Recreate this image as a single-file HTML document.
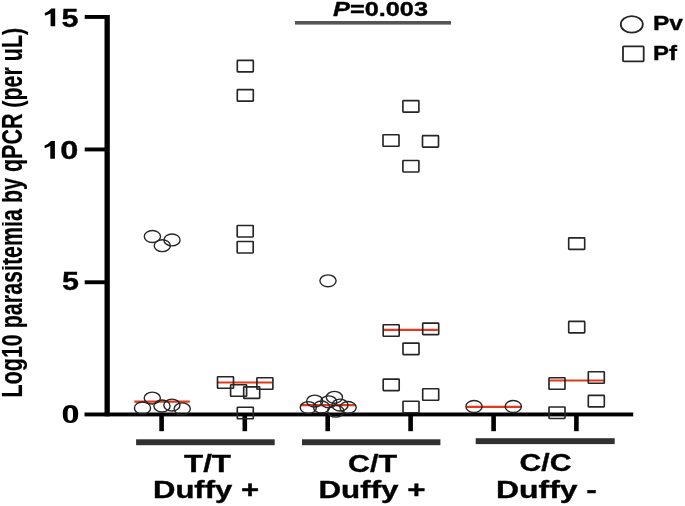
<!DOCTYPE html>
<html><head><meta charset="utf-8"><style>
html,body{margin:0;padding:0;background:#fff;}
svg{display:block;will-change:transform;}
text{font-family:"Liberation Sans",sans-serif;font-weight:bold;fill:#000;stroke:#000;stroke-width:0.35px;}
</style></head><body>
<svg width="685" height="506" viewBox="0 0 685 506">
<rect width="685" height="506" fill="#fff"/>
<!-- y axis -->
<rect x="104.5" y="15" width="5.3" height="401.3" fill="#000"/>
<rect x="84.7" y="15" width="22" height="3.9" fill="#000"/>
<rect x="84.7" y="147.5" width="22" height="3.9" fill="#000"/>
<rect x="84.7" y="280.3" width="22" height="3.9" fill="#000"/>
<!-- x axis -->
<rect x="84.5" y="412.5" width="548.7" height="3.9" fill="#000"/>
<g fill="#000">
<rect x="159.3" y="415" width="4.6" height="16.2"/>
<rect x="242.5" y="415" width="4.6" height="16.2"/>
<rect x="325.4" y="415" width="4.6" height="16.2"/>
<rect x="408.3" y="415" width="4.6" height="16.2"/>
<rect x="491.3" y="415" width="4.6" height="16.2"/>
<rect x="574.1" y="415" width="4.6" height="16.2"/>
</g>
<!-- group bars -->
<g fill="#323131">
<rect x="136.1" y="439.3" width="138.6" height="5.9"/>
<rect x="302" y="439.3" width="138.4" height="5.9"/>
<rect x="475.7" y="438.2" width="139" height="5.9"/>
</g>
<!-- p value line -->
<rect x="295" y="21" width="156" height="3.6" fill="#555"/>
<g stroke="#e6391b" stroke-width="2.2">
<line x1="134.3" y1="401.6" x2="189.8" y2="401.6"/>
<line x1="217.8" y1="382.5" x2="272.5" y2="382.5"/>
<line x1="300.5" y1="405.1" x2="355.4" y2="405.1"/>
<line x1="383.7" y1="329.8" x2="437.8" y2="329.8"/>
<line x1="466.6" y1="406.8" x2="521.3" y2="406.8"/>
<line x1="549.5" y1="380.5" x2="604" y2="380.5"/>
</g>
<g fill="none" stroke="#262626" stroke-width="1.4">
<ellipse cx="152.4" cy="236.5" rx="8.1" ry="5.95"/>
<ellipse cx="162.3" cy="245.7" rx="8.1" ry="5.95"/>
<ellipse cx="172" cy="239.9" rx="8.1" ry="5.95"/>
<ellipse cx="152.3" cy="398.1" rx="8.1" ry="5.95"/>
<ellipse cx="142.5" cy="408" rx="8.1" ry="5.95"/>
<ellipse cx="162" cy="406" rx="8.1" ry="5.95"/>
<ellipse cx="171.9" cy="405.1" rx="8.1" ry="5.95"/>
<ellipse cx="182.2" cy="408.8" rx="8.1" ry="5.95"/>
<ellipse cx="328" cy="280.8" rx="8.1" ry="5.95"/>
<ellipse cx="308.3" cy="407.6" rx="8.1" ry="5.95"/>
<ellipse cx="314.7" cy="401.1" rx="8.1" ry="5.95"/>
<ellipse cx="321.5" cy="407" rx="8.1" ry="5.95"/>
<ellipse cx="328.7" cy="401.8" rx="8.1" ry="5.95"/>
<ellipse cx="334.4" cy="397.3" rx="8.1" ry="5.95"/>
<ellipse cx="340" cy="405.1" rx="8.1" ry="5.95"/>
<ellipse cx="348.1" cy="407.4" rx="8.1" ry="5.95"/>
<ellipse cx="335.8" cy="411.2" rx="8.1" ry="5.95"/>
<ellipse cx="474" cy="406.5" rx="8.1" ry="5.95"/>
<ellipse cx="513.3" cy="406.5" rx="8.1" ry="5.95"/>
</g>
<g fill="none" stroke="#262626" stroke-width="1.65">
<rect x="237.30" y="60.35" width="16.0" height="11.5" rx="0.6"/>
<rect x="237.30" y="89.55" width="16.0" height="11.5" rx="0.6"/>
<rect x="237.20" y="225.45" width="16.0" height="11.5" rx="0.6"/>
<rect x="237.20" y="241.45" width="16.0" height="11.5" rx="0.6"/>
<rect x="217.50" y="376.75" width="16.0" height="11.5" rx="0.6"/>
<rect x="230.60" y="384.75" width="16.0" height="11.5" rx="0.6"/>
<rect x="243.70" y="386.85" width="16.0" height="11.5" rx="0.6"/>
<rect x="256.90" y="377.75" width="16.0" height="11.5" rx="0.6"/>
<rect x="237.30" y="407.25" width="16.0" height="11.5" rx="0.6"/>
<rect x="402.90" y="100.65" width="16.0" height="11.5" rx="0.6"/>
<rect x="383.00" y="134.75" width="16.0" height="11.5" rx="0.6"/>
<rect x="422.50" y="135.65" width="16.0" height="11.5" rx="0.6"/>
<rect x="402.90" y="160.45" width="16.0" height="11.5" rx="0.6"/>
<rect x="383.20" y="324.75" width="16.0" height="11.5" rx="0.6"/>
<rect x="422.70" y="323.05" width="16.0" height="11.5" rx="0.6"/>
<rect x="403.00" y="343.15" width="16.0" height="11.5" rx="0.6"/>
<rect x="383.20" y="379.15" width="16.0" height="11.5" rx="0.6"/>
<rect x="422.70" y="388.75" width="16.0" height="11.5" rx="0.6"/>
<rect x="403.00" y="401.25" width="16.0" height="11.5" rx="0.6"/>
<rect x="568.70" y="237.85" width="16.0" height="11.5" rx="0.6"/>
<rect x="568.70" y="321.35" width="16.0" height="11.5" rx="0.6"/>
<rect x="549.00" y="377.75" width="16.0" height="11.5" rx="0.6"/>
<rect x="588.30" y="371.75" width="16.0" height="11.5" rx="0.6"/>
<rect x="588.30" y="395.35" width="16.0" height="11.5" rx="0.6"/>
<rect x="549.00" y="406.95" width="16.0" height="11.5" rx="0.6"/>
</g>
<!-- tick labels -->
<path d="M54.9 141 L54.9 158.8 L50.3 158.8 L50.3 146 L45.4 147.9 Q44.5 148 44.5 147 L44.6 145.6 Q48.6 143.8 51.1 141 Z" fill="#000"/>
<path transform="translate(0.3,-132.5)" d="M54.9 141 L54.9 158.8 L50.3 158.8 L50.3 146 L45.4 147.9 Q44.5 148 44.5 147 L44.6 145.6 Q48.6 143.8 51.1 141 Z" fill="#000"/>
<text transform="translate(61.6,26.7) scale(1.22,1)" font-size="25">5</text>
<text transform="translate(60.3,158.8) scale(1.3,1)" font-size="25">0</text>
<text transform="translate(62,290.1) scale(1.22,1)" font-size="25">5</text>
<path fill="#000" fill-rule="evenodd" d="M78.20 414.10 C78.20 420.40 75.89 423.10 70.50 423.10 C65.11 423.10 62.80 420.40 62.80 414.10 C62.80 407.80 65.11 405.10 70.50 405.10 C75.89 405.10 78.20 407.80 78.20 414.10 Z M73.05 414.30 C73.05 419.42 72.50 420.70 70.30 420.70 C68.10 420.70 67.55 419.42 67.55 414.30 C67.55 409.18 68.10 407.90 70.30 407.90 C72.50 407.90 73.05 409.18 73.05 414.30 Z"/>
<!-- y label -->
<defs>
<clipPath id="cu" clipPathUnits="userSpaceOnUse"><rect x="0.00" y="-60" width="13.10" height="120"/><rect x="39.31" y="-60" width="23.88" height="120"/><rect x="238.47" y="-60" width="45.32" height="120"/><rect x="349.33" y="-60" width="13.11" height="120"/></clipPath>
<clipPath id="cp" clipPathUnits="userSpaceOnUse"><rect x="289.74" y="-60" width="7.15" height="120"/><rect x="362.44" y="-60" width="9.56" height="120"/></clipPath>
<clipPath id="cla" clipPathUnits="userSpaceOnUse"><rect x="-5.00" y="-11.08" width="5.00" height="11.38"/><rect x="13.10" y="-11.08" width="26.21" height="11.38"/><rect x="63.19" y="-11.08" width="175.28" height="11.38"/><rect x="283.79" y="-11.08" width="5.95" height="11.38"/><rect x="296.89" y="-11.08" width="52.44" height="11.38"/></clipPath>
<clipPath id="clc" clipPathUnits="userSpaceOnUse"><rect x="-5.00" y="-60" width="5.00" height="49.32"/><rect x="13.10" y="-60" width="26.21" height="49.32"/><rect x="63.19" y="-60" width="175.28" height="49.32"/><rect x="283.79" y="-60" width="5.95" height="49.32"/><rect x="296.89" y="-60" width="52.44" height="49.32"/></clipPath>
<clipPath id="clb" clipPathUnits="userSpaceOnUse"><rect x="-5.00" y="-0.3" width="5.00" height="60"/><rect x="13.10" y="-0.3" width="26.21" height="60"/><rect x="63.19" y="-0.3" width="175.28" height="60"/><rect x="283.79" y="-0.3" width="5.95" height="60"/><rect x="296.89" y="-0.3" width="52.44" height="60"/></clipPath>
</defs>
<g clip-path="url(#cu)" transform="translate(21.8,397.4) rotate(-90) scale(1,1.41)"><text style="stroke-width:0.12px" x="0" y="0" font-size="20.6" textLength="369.6" lengthAdjust="spacingAndGlyphs">Log10 parasitemia by qPCR (per uL)</text></g>
<g clip-path="url(#cp)" transform="translate(21.8,397.4) rotate(-90) scale(1,1.33)"><text style="stroke-width:0.12px" x="0" y="0" font-size="20.6" textLength="369.6" lengthAdjust="spacingAndGlyphs">Log10 parasitemia by qPCR (per uL)</text></g>
<g clip-path="url(#cla)" transform="translate(21.8,397.4) rotate(-90) scale(1,1.5)"><text style="stroke-width:0.12px" x="0" y="0" font-size="20.6" textLength="369.6" lengthAdjust="spacingAndGlyphs">Log10 parasitemia by qPCR (per uL)</text></g>
<g clip-path="url(#clb)" transform="translate(21.8,397.4) rotate(-90) scale(1,1.21)"><text style="stroke-width:0.12px" x="0" y="0" font-size="20.6" textLength="369.6" lengthAdjust="spacingAndGlyphs">Log10 parasitemia by qPCR (per uL)</text></g>
<g clip-path="url(#clc)" transform="translate(21.8,397.4) rotate(-90) translate(0,-8.051) scale(1,0.76)"><text style="stroke-width:0.12px" x="0" y="0" font-size="20.6" textLength="369.6" lengthAdjust="spacingAndGlyphs">Log10 parasitemia by qPCR (per uL)</text></g>

<!-- p value -->
<text x="333" y="15.7" font-size="20.6" textLength="95" lengthAdjust="spacingAndGlyphs"><tspan font-style="italic">P</tspan>=0.003</text>
<!-- legend -->
<ellipse cx="631.8" cy="24.4" rx="11" ry="8.25" fill="none" stroke="#262626" stroke-width="1.8"/>
<rect x="623" y="46.3" width="20.7" height="15.1" rx="0.8" fill="none" stroke="#262626" stroke-width="1.8"/>
<text x="653" y="30" font-size="19.7" textLength="30" lengthAdjust="spacingAndGlyphs">Pv</text>
<text x="653" y="60.3" font-size="19.7" textLength="24" lengthAdjust="spacingAndGlyphs">Pf</text>
<!-- group labels -->
<text x="184" y="472.3" font-size="24" textLength="47" lengthAdjust="spacingAndGlyphs">T/T</text>
<text x="153" y="497.6" font-size="23" textLength="106" lengthAdjust="spacingAndGlyphs">Duffy +</text>
<text x="348" y="472.4" font-size="24" textLength="49" lengthAdjust="spacingAndGlyphs">C/T</text>
<text x="318.5" y="498.4" font-size="23" textLength="107" lengthAdjust="spacingAndGlyphs">Duffy +</text>
<text x="519.5" y="470.6" font-size="23" textLength="52" lengthAdjust="spacingAndGlyphs">C/C</text>
<text x="496" y="498.2" font-size="23" textLength="101" lengthAdjust="spacingAndGlyphs">Duffy -</text>
</svg>
</body></html>
